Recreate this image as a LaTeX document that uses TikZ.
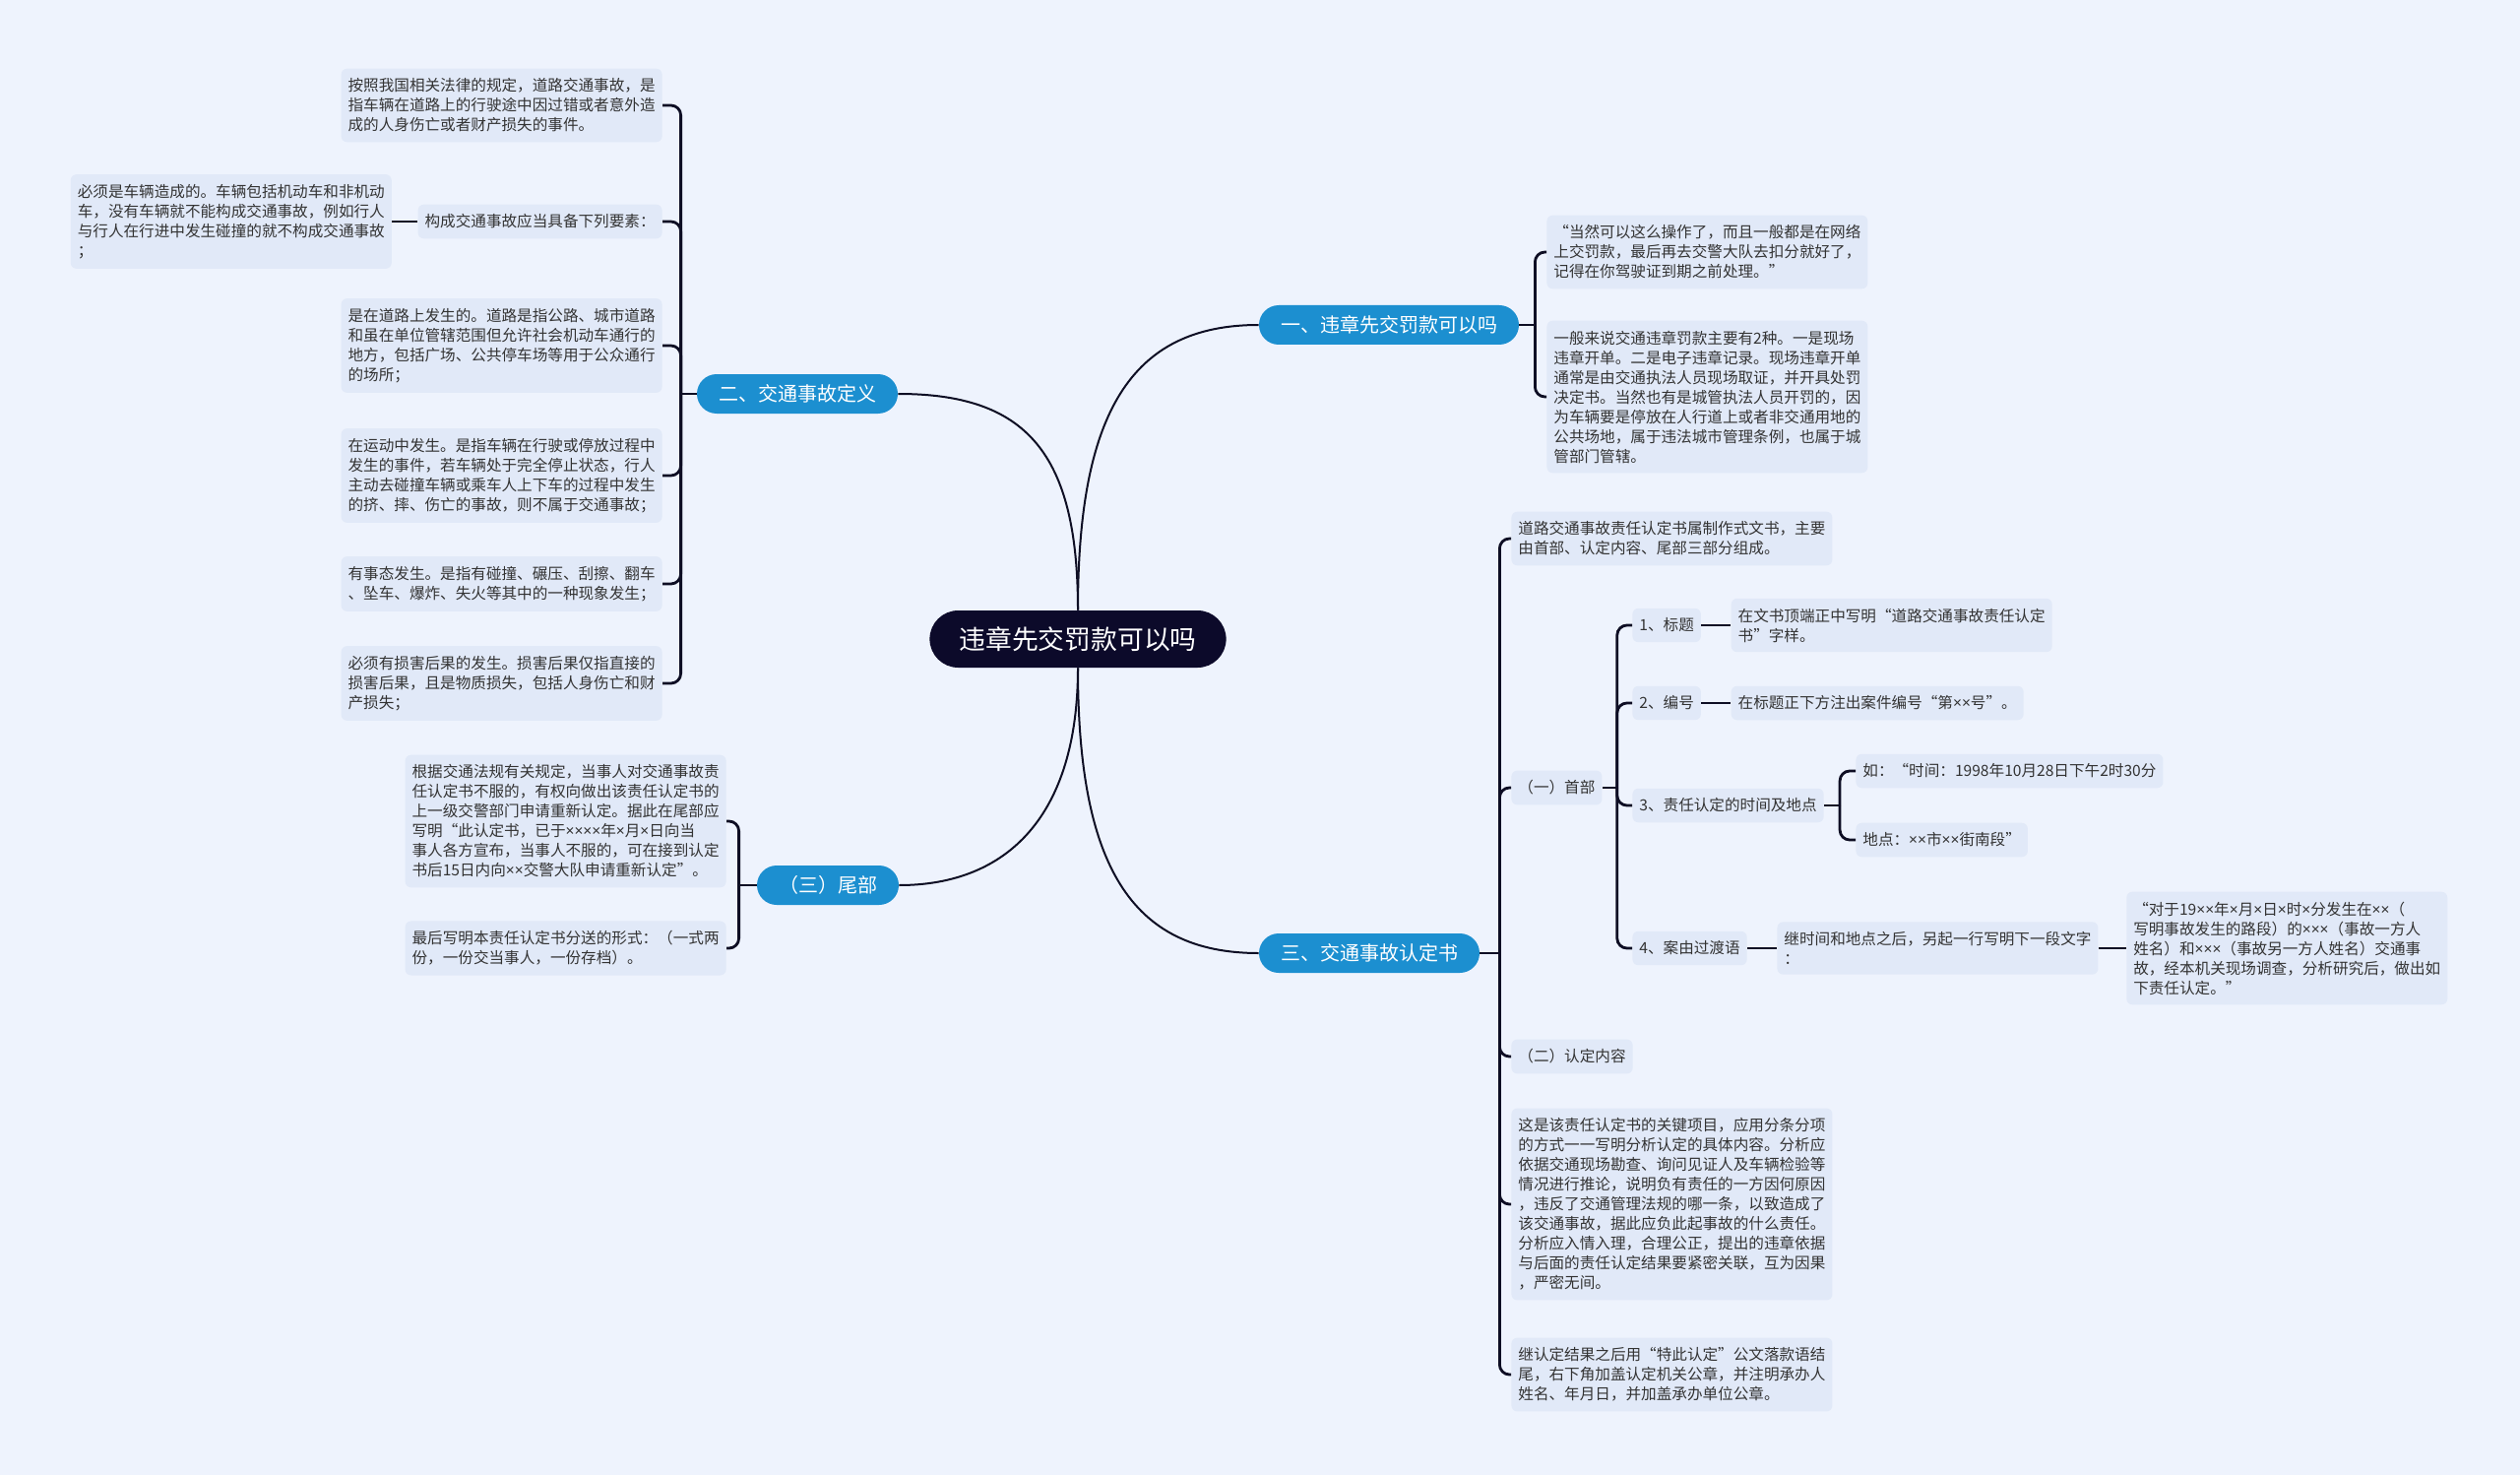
\documentclass[tikz,border=0pt]{standalone}
\usepackage{fontspec}
\setmainfont{Noto Sans CJK SC}
\newfontfamily\latinsans{Noto Sans}
\newcommand\mx{{\latinsans ×}}
\usetikzlibrary{positioning}
\definecolor{bgblue}{RGB}{238,243,253}
\definecolor{leafblue}{RGB}{225,233,248}
\definecolor{leaftext}{RGB}{51,51,51}
\definecolor{brblue}{RGB}{28,143,208}
\definecolor{rootnavy}{RGB}{12,10,42}
\definecolor{linenavy}{RGB}{14,14,36}
\begin{document}
\begin{tikzpicture}[x=0.5pt,y=-0.5pt,
	leafbox/.style={fill=leafblue, rounded corners=3pt, inner xsep=3.5pt, inner ysep=5pt, align=left, text=leaftext, font=\fontsize{7.8pt}{10pt}\selectfont},
	mainbr/.style={fill=brblue, rounded corners=10pt, minimum height=20pt, inner xsep=11pt, text=white, font=\fontsize{10pt}{12pt}\selectfont},
	rootbox/.style={fill=rootnavy, rounded corners=14.5pt, minimum height=29pt, inner xsep=15pt, text=white, font=\fontsize{13.4pt}{16pt}\selectfont},
	link/.style={draw=linenavy, line width=1pt},
	brace/.style={draw=linenavy, line width=1.4pt, rounded corners=5pt}]
	\fill[bgblue] (0,0) rectangle (2560,1498);
	\useasboundingbox (0,0) rectangle (2560,1498);
	
	\node[rootbox] (root) at (1095,649) {违章先交罚款可以吗};
	\node[mainbr] (b1) at (1411,330) {一、违章先交罚款可以吗};
	\node[mainbr] (b2) at (810,400) {二、交通事故定义};
	\node[mainbr] (b3) at (1391,968) {三、交通事故认定书};
	\node[mainbr] (b4) at (841,899) {（三）尾部};
	
	\draw[link] (root.north) .. controls +(0,-200) and +(-130,0) .. (b1.west);
	\draw[link] (root.north) .. controls +(0,-160) and +(130,0) .. (b2.east);
	\draw[link] (root.south) .. controls +(0,200) and +(-130,0) .. (b3.west);
	\draw[link] (root.south) .. controls +(0,150) and +(110,0) .. (b4.east);
	
	\node[leafbox, anchor=west] (b1a) at (1571,256) {“当然可以这么操作了，而且一般都是在网络\\上交罚款，最后再去交警大队去扣分就好了，\\记得在你驾驶证到期之前处理。”};
	\node[leafbox, anchor=west] (b1b) at (1571,403) {一般来说交通违章罚款主要有2种。一是现场\\违章开单。二是电子违章记录。现场违章开单\\通常是由交通执法人员现场取证，并开具处罚\\决定书。当然也有是城管执法人员开罚的，因\\为车辆要是停放在人行道上或者非交通用地的\\公共场地，属于违法城市管理条例，也属于城\\管部门管辖。};
	\coordinate[right=8pt of b1] (s1);
	\draw[brace] (b1) -- (s1);
	\foreach \k in {b1a,b1b} \draw[brace] (s1) |- (\k.west);
	
	\node[leafbox, anchor=east] (b2a) at (673,107) {按照我国相关法律的规定，道路交通事故，是\\指车辆在道路上的行驶途中因过错或者意外造\\成的人身伤亡或者财产损失的事件。};
	\node[leafbox, anchor=east] (b2b) at (673,225) {构成交通事故应当具备下列要素：};
	\node[leafbox, left=13pt of b2b] (b2b1) {必须是车辆造成的。车辆包括机动车和非机动\\车，没有车辆就不能构成交通事故，例如行人\\与行人在行进中发生碰撞的就不构成交通事故\\；};
	\node[leafbox, anchor=east] (b2c) at (673,351) {是在道路上发生的。道路是指公路、城市道路\\和虽在单位管辖范围但允许社会机动车通行的\\地方，包括广场、公共停车场等用于公众通行\\的场所；};
	\node[leafbox, anchor=east] (b2d) at (673,483) {在运动中发生。是指车辆在行驶或停放过程中\\发生的事件，若车辆处于完全停止状态，行人\\主动去碰撞车辆或乘车人上下车的过程中发生\\的挤、摔、伤亡的事故，则不属于交通事故；};
	\node[leafbox, anchor=east] (b2e) at (673,593) {有事态发生。是指有碰撞、碾压、刮擦、翻车\\、坠车、爆炸、失火等其中的一种现象发生；};
	\node[leafbox, anchor=east] (b2f) at (673,694) {必须有损害后果的发生。损害后果仅指直接的\\损害后果，且是物质损失，包括人身伤亡和财\\产损失；};
	\coordinate[left=8pt of b2] (s2);
	\draw[brace] (b2) -- (s2);
	\foreach \k in {b2a,b2b,b2c,b2d,b2e,b2f} \draw[brace] (s2) |- (\k.east);
	\draw[brace] (b2b) -- (b2b1);
	
	\node[leafbox, anchor=west] (b3a) at (1535,547) {道路交通事故责任认定书属制作式文书，主要\\由首部、认定内容、尾部三部分组成。};
	\node[leafbox, anchor=west] (b3b) at (1535,800) {（一）首部};
	\node[leafbox, anchor=west] (b3c) at (1535,1073) {（二）认定内容};
	\node[leafbox, anchor=west] (b3d) at (1535,1223) {这是该责任认定书的关键项目，应用分条分项\\的方式一一写明分析认定的具体内容。分析应\\依据交通现场勘查、询问见证人及车辆检验等\\情况进行推论，说明负有责任的一方因何原因\\，违反了交通管理法规的哪一条，以致造成了\\该交通事故，据此应负此起事故的什么责任。\\分析应入情入理，合理公正，提出的违章依据\\与后面的责任认定结果要紧密关联，互为因果\\，严密无间。};
	\node[leafbox, anchor=west] (b3e) at (1535,1396) {继认定结果之后用“特此认定”公文落款语结\\尾，右下角加盖认定机关公章，并注明承办人\\姓名、年月日，并加盖承办单位公章。};
	\coordinate[right=10pt of b3] (s3);
	\draw[brace] (b3) -- (s3);
	\foreach \k in {b3a,b3b,b3c,b3d,b3e} \draw[brace] (s3) |- (\k.west);
	
	\node[leafbox, anchor=west] (b3b1) at (1658,635) {1、标题};
	\node[leafbox, right=15pt of b3b1] (b3b1a) {在文书顶端正中写明“道路交通事故责任认定\\书”字样。};
	\node[leafbox, anchor=west] (b3b2) at (1658,714) {2、编号};
	\node[leafbox, right=15pt of b3b2] (b3b2a) {在标题正下方注出案件编号“第\mx\mx 号”。};
	\node[leafbox, anchor=west] (b3b3) at (1658,818) {3、责任认定的时间及地点};
	\node[leafbox, anchor=west] (b3b3a) at (1885,783) {如：“时间：1998年10月28日下午2时30分};
	\node[leafbox, anchor=west] (b3b3b) at (1885,853) {地点：\mx\mx 市\mx\mx 街南段”};
	\node[leafbox, anchor=west] (b3b4) at (1658,963) {4、案由过渡语};
	\node[leafbox, right=15pt of b3b4] (b3b4a) {继时间和地点之后，另起一行写明下一段文字\\：};
	\node[leafbox, right=14pt of b3b4a] (b3b4b) {“对于19\mx\mx 年\mx 月\mx 日\mx 时\mx 分发生在\mx\mx （\\写明事故发生的路段）的\mx\mx\mx （事故一方人\\姓名）和\mx\mx\mx （事故另一方人姓名）交通事\\故，经本机关现场调查，分析研究后，做出如\\下责任认定。”};
	\coordinate[right=7.5pt of b3b] (s3b);
	\draw[brace] (b3b) -- (s3b);
	\foreach \k in {b3b1,b3b2,b3b3,b3b4} \draw[brace] (s3b) |- (\k.west);
	\draw[brace] (b3b1) -- (b3b1a);
	\draw[brace] (b3b2) -- (b3b2a);
	\coordinate[right=8pt of b3b3] (s3b3);
	\draw[brace] (b3b3) -- (s3b3);
	\foreach \k in {b3b3a,b3b3b} \draw[brace] (s3b3) |- (\k.west);
	\draw[brace] (b3b4) -- (b3b4a);
	\draw[brace] (b3b4a) -- (b3b4b);
	
	\node[leafbox, anchor=east] (b4a) at (738,834) {根据交通法规有关规定，当事人对交通事故责\\任认定书不服的，有权向做出该责任认定书的\\上一级交警部门申请重新认定。据此在尾部应\\写明“此认定书，已于\mx\mx\mx\mx 年\mx 月\mx 日向当\\事人各方宣布，当事人不服的，可在接到认定\\书后15日内向\mx\mx 交警大队申请重新认定”。};
	\node[leafbox, anchor=east] (b4b) at (738,963) {最后写明本责任认定书分送的形式：（一式两\\份，一份交当事人，一份存档）。};
	\coordinate[left=9pt of b4] (s4);
	\draw[brace] (b4) -- (s4);
	\foreach \k in {b4a,b4b} \draw[brace] (s4) |- (\k.east);
\end{tikzpicture}
\end{document}
